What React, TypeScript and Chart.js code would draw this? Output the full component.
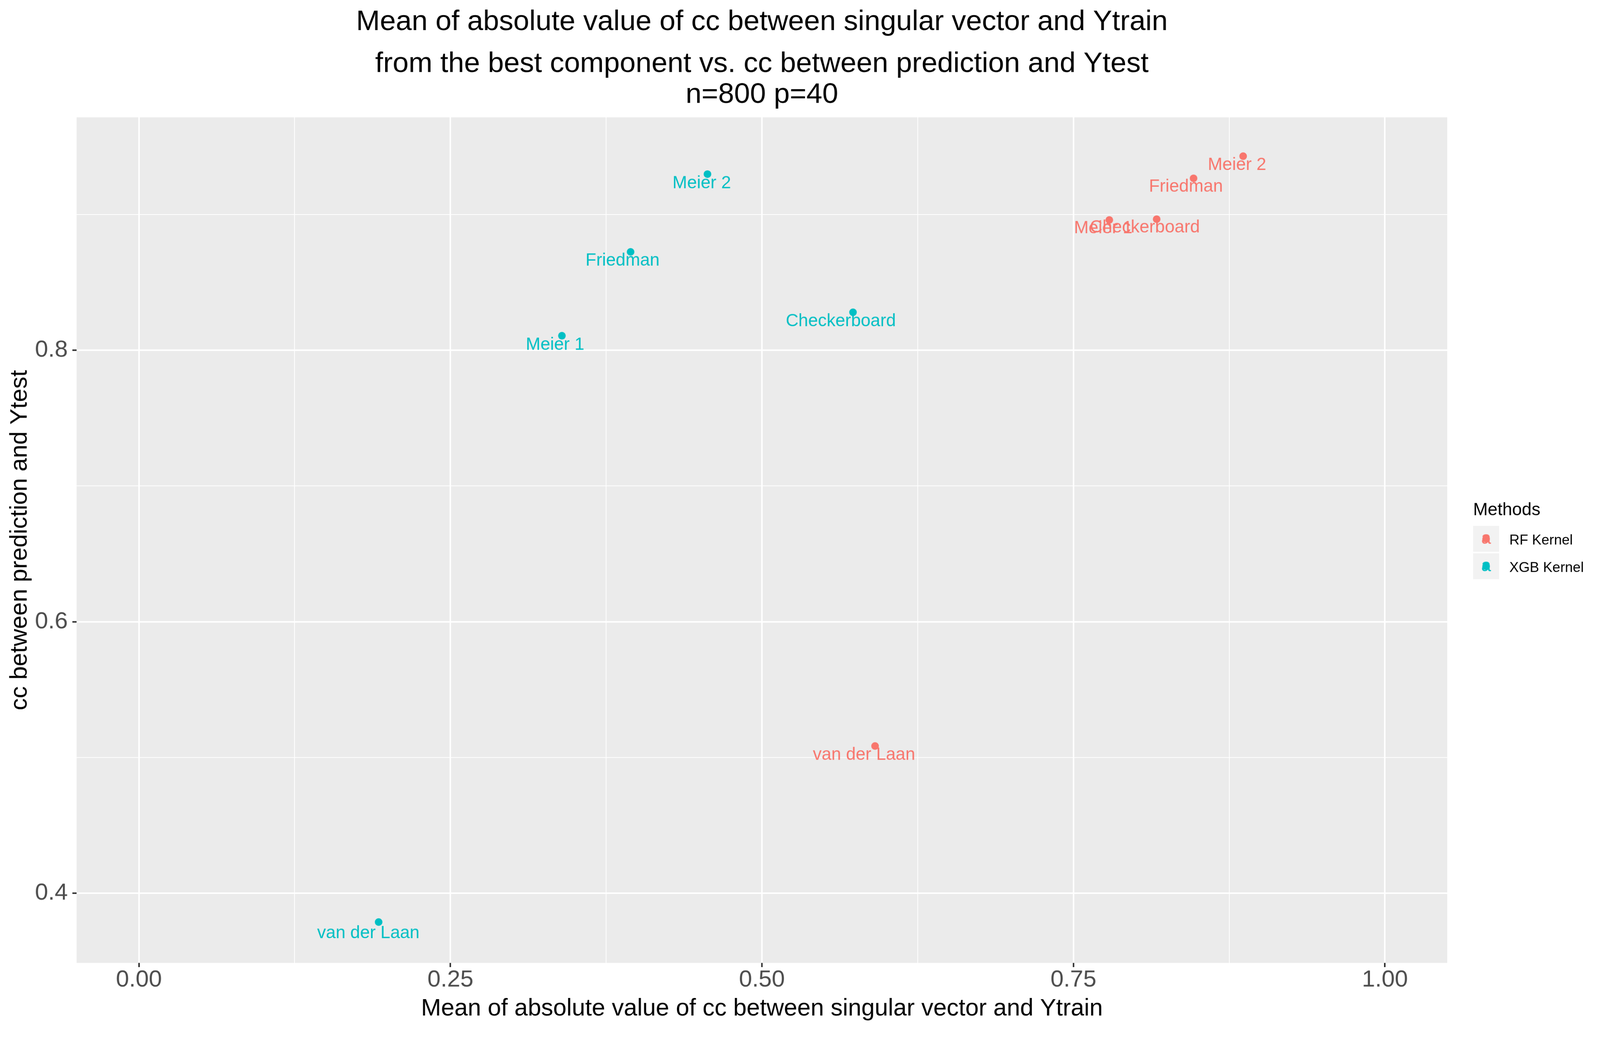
import { useEffect, useRef } from 'react';
import { Chart, registerables } from 'chart.js';

Chart.register(...registerables);

const FONT = '"Liberation Sans", Arial, Helvetica, sans-serif';

const methods = ['RF Kernel', 'XGB Kernel'];
const methodColors = ['#F8766D', '#00BFC4'];
const datasetNames = ['Checkerboard', 'Friedman', 'Meier 1', 'Meier 2', 'van der Laan'];

// mean of |cc| between singular vector and Ytrain (x)
const rfMeanCc = [0.8168, 0.8464, 0.7788, 0.8862, 0.5908];
const xgbMeanCc = [0.5731, 0.3946, 0.3395, 0.4563, 0.1924];
// cc between prediction and Ytest (y)
const rfTestCc = [0.8966, 0.9267, 0.896, 0.943, 0.5084];
const xgbTestCc = [0.828, 0.8725, 0.8107, 0.9298, 0.3787];

const xMajorTicks = [0, 0.25, 0.5, 0.75, 1];
const xTickLabels = ['0.00', '0.25', '0.50', '0.75', '1.00'];
const xMinorTicks = [0.125, 0.375, 0.625, 0.875];
const yMajorTicks = [0.4, 0.6, 0.8];
const yTickLabels = ['0.4', '0.6', '0.8'];
const yMinorTicks = [0.5, 0.7, 0.9];

const titleLines = [
  'Mean of absolute value of cc between singular vector and Ytrain',
  'from the best component vs. cc between prediction and Ytest',
  'n=800 p=40',
];

// repel-style label placement, px from the point (dx, dy to baseline)
const rfLabelShift = [[-31, 35], [-20, 35], [-16, 35], [-16, 36], [-29, 36]];
const xgbLabelShift = [[-32, 37], [-21, 36], [-18, 37], [-15, 37], [-27, 42]];
const labelShifts = [rfLabelShift, xgbLabelShift];

const isIn = (arr: number[], v: any) => arr.includes(v);

const ggDecor = {
  id: 'ggDecor',
  beforeDraw(chart: any) {
    const { ctx, chartArea: a } = chart;
    ctx.save();
    ctx.fillStyle = '#FFFFFF';
    ctx.fillRect(0, 0, chart.width, chart.height);
    ctx.fillStyle = '#EBEBEB';
    ctx.fillRect(a.left, a.top, a.right - a.left, a.bottom - a.top);
    ctx.restore();
  },
  afterDatasetsDraw(chart: any) {
    const { ctx } = chart;
    ctx.save();
    ctx.font = `46px ${FONT}`;
    ctx.textAlign = 'center';
    ctx.textBaseline = 'alphabetic';
    chart.data.datasets.forEach((ds: any, i: number) => {
      const meta = chart.getDatasetMeta(i);
      ctx.fillStyle = methodColors[i];
      meta.data.forEach((pt: any, j: number) => {
        const [dx, dy] = labelShifts[i][j];
        ctx.fillText(ds.names[j], pt.x + dx, pt.y + dy);
      });
    });
    ctx.restore();
  },
  afterDraw(chart: any) {
    const { ctx, chartArea: a } = chart;
    const cx = (a.left + a.right) / 2;
    const cy = (a.top + a.bottom) / 2;
    ctx.save();
    ctx.fillStyle = '#000000';
    ctx.textAlign = 'center';
    ctx.textBaseline = 'alphabetic';

    // title
    ctx.font = `75px ${FONT}`;
    const titleBase = [79, 189, 270];
    titleLines.forEach((t, i) => ctx.fillText(t, cx, titleBase[i]));

    // axis titles
    ctx.font = `63px ${FONT}`;
    ctx.fillText('Mean of absolute value of cc between singular vector and Ytrain', cx, 2665);
    ctx.save();
    ctx.translate(70, cy);
    ctx.rotate(-Math.PI / 2);
    ctx.fillText('cc between prediction and Ytest', 0, 0);
    ctx.restore();

    // legend
    const lx = 3867;
    ctx.textAlign = 'left';
    ctx.font = `46px ${FONT}`;
    ctx.fillText('Methods', lx, 1352);
    methods.forEach((m, i) => {
      const top = 1380 + i * 72;
      ctx.fillStyle = '#F2F2F2';
      ctx.fillRect(lx, top, 68, 68);
      const kx = lx + 34;
      const ky = top + 34;
      ctx.fillStyle = methodColors[i];
      ctx.beginPath();
      ctx.arc(kx, ky, 10, 0, Math.PI * 2);
      ctx.fill();
      ctx.font = `46px ${FONT}`;
      ctx.textAlign = 'center';
      ctx.textBaseline = 'middle';
      ctx.fillText('a', kx, ky);
      ctx.fillStyle = '#000000';
      ctx.textAlign = 'left';
      ctx.textBaseline = 'alphabetic';
      ctx.font = `37px ${FONT}`;
      ctx.fillText(m, 3962, top + 49);
    });
    ctx.restore();
  },
};

export default function App() {
  const canvasRef = useRef<HTMLCanvasElement>(null);
  const chartRef = useRef<Chart | null>(null);

  useEffect(() => {
    if (!canvasRef.current) return;
    const ctx = canvasRef.current.getContext('2d');
    if (!ctx) return;
    if (chartRef.current) chartRef.current.destroy();

    Chart.defaults.font.family = FONT;

    const xValues = [...xMajorTicks, ...xMinorTicks].sort((p, q) => p - q);
    const yValues = [...yMajorTicks, ...yMinorTicks].sort((p, q) => p - q);

    chartRef.current = new Chart(ctx, {
      type: 'scatter',
      data: {
        datasets: [
          {
            label: methods[0],
            names: datasetNames,
            data: rfMeanCc.map((x, i) => ({ x, y: rfTestCc[i] })),
            backgroundColor: methodColors[0],
            borderWidth: 0,
            pointRadius: 10,
            pointHoverRadius: 10,
          } as any,
          {
            label: methods[1],
            names: datasetNames,
            data: xgbMeanCc.map((x, i) => ({ x, y: xgbTestCc[i] })),
            backgroundColor: methodColors[1],
            borderWidth: 0,
            pointRadius: 10,
            pointHoverRadius: 10,
          } as any,
        ],
      },
      options: {
        responsive: false,
        animation: false,
        devicePixelRatio: 1,
        events: [],
        layout: { padding: { top: 308, right: 401, bottom: 0, left: 0 } },
        plugins: {
          legend: { display: false },
          title: { display: false },
          tooltip: { enabled: false },
        },
        scales: {
          x: {
            type: 'linear',
            min: -0.05,
            max: 1.05,
            afterBuildTicks: (s: any) => {
              s.ticks = xValues.map((v) => ({ value: v }));
            },
            afterFit: (s: any) => {
              s.height = 173;
            },
            border: { display: false },
            grid: {
              color: '#FFFFFF',
              lineWidth: (c: any) => (isIn(xMajorTicks, c.tick?.value) ? 4 : 2),
              tickLength: 11,
              tickWidth: 4,
              tickColor: (c: any) => (isIn(xMajorTicks, c.tick?.value) ? '#333333' : 'rgba(0,0,0,0)'),
            },
            ticks: {
              autoSkip: false,
              maxRotation: 0,
              minRotation: 0,
              padding: 3,
              color: '#4D4D4D',
              font: { size: 62, lineHeight: 1 },
              callback: (v: any) => {
                const i = xMajorTicks.indexOf(v);
                return i >= 0 ? xTickLabels[i] : '';
              },
            },
          },
          y: {
            type: 'linear',
            min: 0.3486,
            max: 0.9716,
            afterBuildTicks: (s: any) => {
              s.ticks = yValues.map((v) => ({ value: v }));
            },
            afterFit: (s: any) => {
              s.width = 201;
            },
            border: { display: false },
            grid: {
              color: '#FFFFFF',
              lineWidth: (c: any) => (isIn(yMajorTicks, c.tick?.value) ? 4 : 2),
              tickLength: 11,
              tickWidth: 4,
              tickColor: (c: any) => (isIn(yMajorTicks, c.tick?.value) ? '#333333' : 'rgba(0,0,0,0)'),
            },
            ticks: {
              autoSkip: false,
              padding: 12,
              color: '#4D4D4D',
              font: { size: 62, lineHeight: 1 },
              callback: (v: any) => {
                const i = yMajorTicks.indexOf(v);
                return i >= 0 ? yTickLabels[i] : '';
              },
            },
          },
        },
      },
      plugins: [ggDecor],
    });

    return () => {
      if (chartRef.current) {
        chartRef.current.destroy();
        chartRef.current = null;
      }
    };
  }, []);

  // the canvas keeps a 4200x2700 bitmap and is stretched to the full viewport width
  return (
    <div style={{ position: 'fixed', left: 0, top: 0, width: '100vw', height: '100vh', background: '#FFFFFF', overflow: 'hidden' }}>
      <canvas
        ref={canvasRef}
        width={4200}
        height={2700}
        style={{ display: 'block', width: '100vw', height: 'calc(100vw * 2700 / 4200)' }}
      />
    </div>
  );
}
